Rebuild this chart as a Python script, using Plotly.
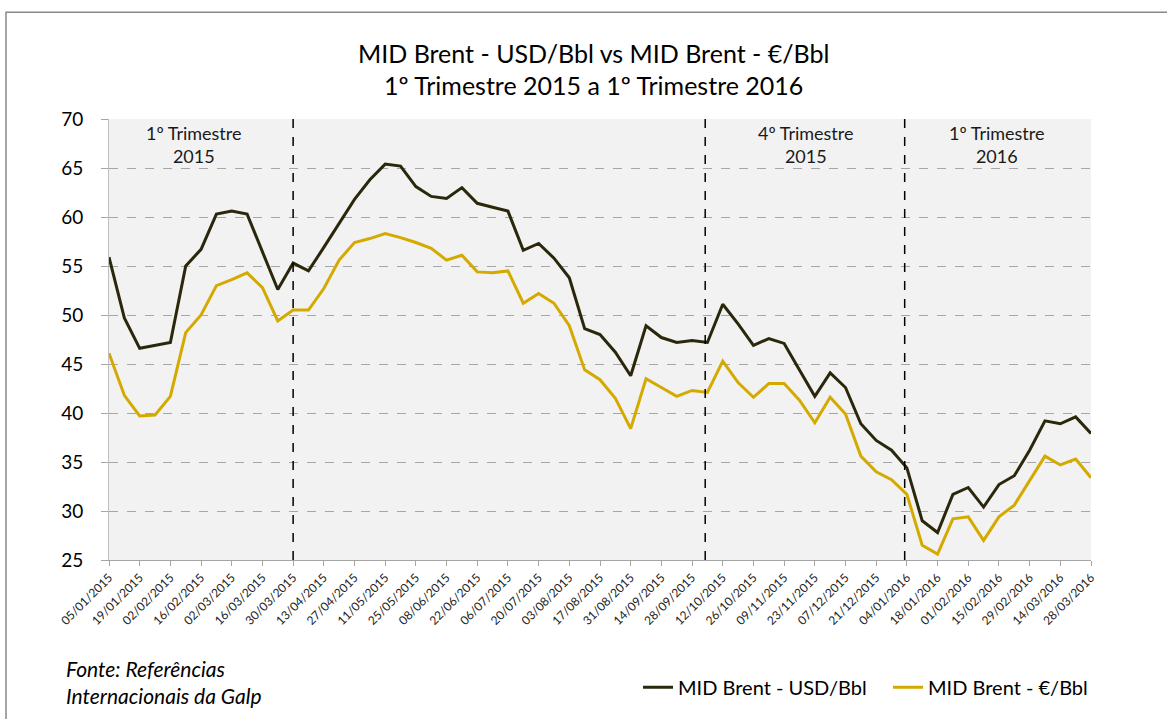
import pandas as pd
import plotly.graph_objects as go

# ---- data ----
start_date = "2015-01-05"
n_weeks = 65
usd = [55.9, 49.7, 46.6, 46.9, 47.2, 55.0, 56.7, 60.3, 60.6, 60.3,
       56.4, 52.6, 55.3, 54.5, 56.9, 59.3, 61.8, 63.8, 65.4, 65.2,
       63.1, 62.1, 61.9, 63.0, 61.4, 61.0, 60.6, 56.6, 57.3, 55.8,
       53.8, 48.6, 48.0, 46.2, 43.8, 48.9, 47.7, 47.2, 47.4, 47.2,
       51.1, 49.1, 46.9, 47.6, 47.1, 44.4, 41.7, 44.1, 42.6, 38.9,
       37.2, 36.2, 34.4, 29.0, 27.8, 31.7, 32.4, 30.4, 32.7, 33.6,
       36.2, 39.2, 38.9, 39.6, 37.9]
eur = [46.1, 41.8, 39.7, 39.8, 41.7, 48.2, 50.0, 53.0, 53.6, 54.3,
       52.8, 49.4, 50.5, 50.5, 52.7, 55.6, 57.4, 57.8, 58.3, 57.9,
       57.4, 56.8, 55.6, 56.1, 54.4, 54.3, 54.5, 51.2, 52.2, 51.2,
       48.9, 44.4, 43.4, 41.5, 38.4, 43.5, 42.6, 41.7, 42.3, 42.1,
       45.3, 43.1, 41.6, 43.0, 43.0, 41.3, 39.0, 41.6, 39.9, 35.6,
       34.0, 33.2, 31.7, 26.5, 25.6, 29.2, 29.4, 27.0, 29.4, 30.6,
       33.1, 35.6, 34.7, 35.3, 33.4]
series_names = ["MID Brent - USD/Bbl", "MID Brent - €/Bbl"]
quarter_breaks = ["2015-03-30", "2015-10-04", "2016-01-03"]
quarter_labels = ["1º Trimestre<br>2015", "4º Trimestre<br>2015", "1º Trimestre<br>2016"]
quarter_label_dates = ["2015-02-13", "2015-11-19", "2016-02-14"]
title_lines = ["MID Brent - USD/Bbl vs MID Brent - €/Bbl",
               "1º Trimestre 2015 a 1º Trimestre 2016"]
source_text = "Fonte: Referências<br>Internacionais da Galp"

dates = pd.date_range(start_date, periods=n_weeks, freq="7D")

# ---- layout geometry (pixels) ----
W, H = 1167, 719
L, R, T, B = 109, 1091, 119, 565
pw, ph = R - L, B - T

def px_x(x):
    return (x - L) / pw

def px_y(y):
    return (B - y) / ph

FONT = "Lato"
c_usd = "#2a270b"
c_eur = "#d4aa00"

fig = go.Figure()
fig.add_trace(go.Scatter(x=dates, y=usd, mode="lines", name=series_names[0],
                         line=dict(color=c_usd, width=3)))
fig.add_trace(go.Scatter(x=dates, y=eur, mode="lines", name=series_names[1],
                         line=dict(color=c_eur, width=3)))

shapes = []
for d in quarter_breaks:
    shapes.append(dict(type="line", xref="x", yref="paper", x0=d, x1=d, y0=0, y1=1,
                       line=dict(color="black", width=1.5, dash="dash")))
# outer border (left and top visible)
shapes.append(dict(type="rect", xref="paper", yref="paper",
                   x0=px_x(6), x1=px_x(1200), y0=px_y(760), y1=px_y(11),
                   line=dict(color="#888888", width=1.5), fillcolor="rgba(0,0,0,0)",
                   layer="below"))

annotations = []
for d, t in zip(quarter_label_dates, quarter_labels):
    annotations.append(dict(x=d, xref="x", y=px_y(145), yref="paper", text=t,
                            showarrow=False, font=dict(family=FONT, size=18, color="#1a1a1a"),
                            xanchor="center", yanchor="middle"))
annotations.append(dict(x=px_x(593), y=px_y(52), xref="paper", yref="paper",
                        text=title_lines[0], showarrow=False,
                        font=dict(family=FONT, size=25, color="black"),
                        xanchor="center", yanchor="middle"))
annotations.append(dict(x=px_x(593), y=px_y(85), xref="paper", yref="paper",
                        text=title_lines[1], showarrow=False,
                        font=dict(family=FONT, size=25, color="black"),
                        xanchor="center", yanchor="middle"))
annotations.append(dict(x=px_x(64), y=px_y(688), xref="paper", yref="paper",
                        text="<i>" + source_text + "</i>", showarrow=False, align="left",
                        font=dict(family=FONT, size=21, color="black"),
                        xanchor="left", yanchor="middle"))

fig.update_layout(
    width=W, height=H,
    margin=dict(l=L, r=W - R, t=T, b=H - B, pad=0),
    paper_bgcolor="white",
    plot_bgcolor="#f2f2f2",
    font=dict(family=FONT, color="black"),
    shapes=shapes,
    annotations=annotations,
    showlegend=True,
    legend=dict(orientation="h", x=px_x(638), y=px_y(674), xanchor="left", yanchor="top",
                font=dict(family=FONT, size=20, color="black"),
                bgcolor="rgba(0,0,0,0)", itemwidth=30, tracegroupgap=0,
                entrywidth=205, entrywidthmode="pixels"),
    xaxis=dict(
        type="date",
        range=[dates[0], dates[-1]],
        tick0=start_date, dtick=14 * 86400000,
        tickformat="%d/%m/%Y",
        tickangle=-45,
        tickfont=dict(family=FONT, size=12, color="#222222"),
        showgrid=False,
        showline=True, linecolor="#a6a6a6", linewidth=1,
        ticks="outside", ticklen=5, tickcolor="#a6a6a6",
        zeroline=False,
    ),
    yaxis=dict(
        range=[25, 70],
        dtick=5, tick0=25,
        tickfont=dict(family=FONT, size=19, color="black"),
        showgrid=True, gridcolor="#a6a6a6", griddash="dash", gridwidth=1,
        showline=True, linecolor="#bfbfbf", linewidth=1,
        ticks="outside", ticklen=7, tickcolor="#a6a6a6",
        ticklabelstandoff=14,
        zeroline=False,
    ),
)

fig.write_html("out.html", config={"displayModeBar": False},
               post_script="document.body.style.margin='0';")
